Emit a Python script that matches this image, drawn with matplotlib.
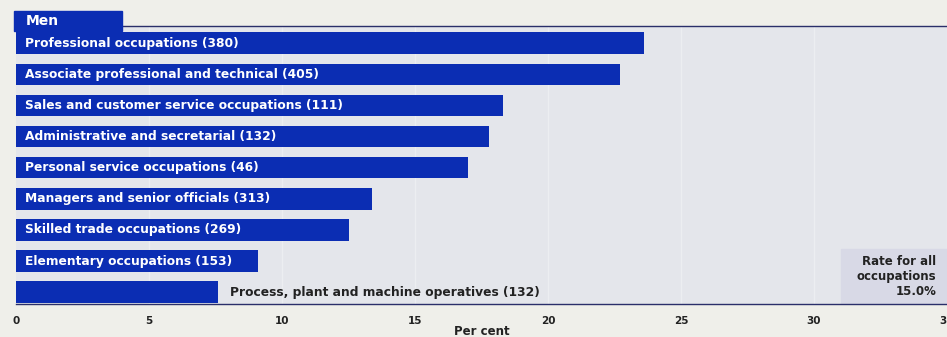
import matplotlib.pyplot as plt
import matplotlib.patches as mpatches

# occupations (sample size) and per cent
labels = ["Professional occupations (380)",
          "Associate professional and technical (405)",
          "Sales and customer service occupations (111)",
          "Administrative and secretarial (132)",
          "Personal service occupations (46)",
          "Managers and senior officials (313)",
          "Skilled trade occupations (269)",
          "Elementary occupations (153)",
          "Process, plant and machine operatives (132)"]
values = [23.6, 22.7, 18.3, 17.8, 17.0, 13.4, 12.5, 9.1, 7.6]
ticks = [0, 5, 10, 15, 20, 25, 30, 35]
all_rate = 15.0

blue = "#0b2db3"
plt.rcParams['font.family'] = ['DejaVu Sans']

fig = plt.figure(figsize=(9.47, 3.37), dpi=100)
fig.patch.set_facecolor("#efefea")
ax = fig.add_axes([16/947, 1-304/337, 931/947, 278/337])
ax.set_facecolor("#e4e6eb")

y = list(range(len(values)))
ax.barh(y, values, height=0.69, color=blue, zorder=3)
ax.set_xlim(0, 931/26.75)
ax.set_ylim(8.38, -0.55)

for i, (lab, v) in enumerate(zip(labels, values)):
    if i == len(values) - 1:
        ax.text(v + 0.45, i, lab, color="#222222", fontsize=8.8, fontweight="bold",
                va="center", ha="left", zorder=4)
    else:
        ax.text(0.35, i, lab, color="white", fontsize=8.8, fontweight="bold",
                va="center", ha="left", zorder=4)

for t in ticks[1:]:
    ax.axvline(t, color="#eceef1", lw=1, zorder=1)

ax.set_xticks(ticks)
ax.set_xticklabels([str(t) for t in ticks], fontsize=7.5, fontweight="bold", color="#222222")
ax.tick_params(axis="x", length=0, pad=9)
ax.set_yticks([])
for s in ["left", "right"]:
    ax.spines[s].set_visible(False)
for s in ["top", "bottom"]:
    ax.spines[s].set_color("#2a2f6a")
    ax.spines[s].set_linewidth(1)
ax.set_xlabel("Per cent", fontsize=8.5, fontweight="bold", color="#222222", labelpad=-1)

# rate box bottom right
ax.add_patch(mpatches.Rectangle((31.0, 6.6), 5, 1.8, color="#d8d9e6", zorder=2))
ax.text(34.6, 7.5, "Rate for all\noccupations\n%.1f%%" % all_rate, ha="right", va="center",
        fontsize=8.5, fontweight="bold", color="#222222", linespacing=1.2, zorder=4)

# header tab
fig.patches.append(mpatches.Rectangle((14/947, 1-31/337), 108/947, 20/337,
                                      transform=fig.transFigure, color=blue))
fig.text(26/947, 1-21/337, "Men", color="white", fontsize=10, fontweight="bold", va="center")

fig.savefig("out.png", dpi=100, facecolor=fig.get_facecolor())
